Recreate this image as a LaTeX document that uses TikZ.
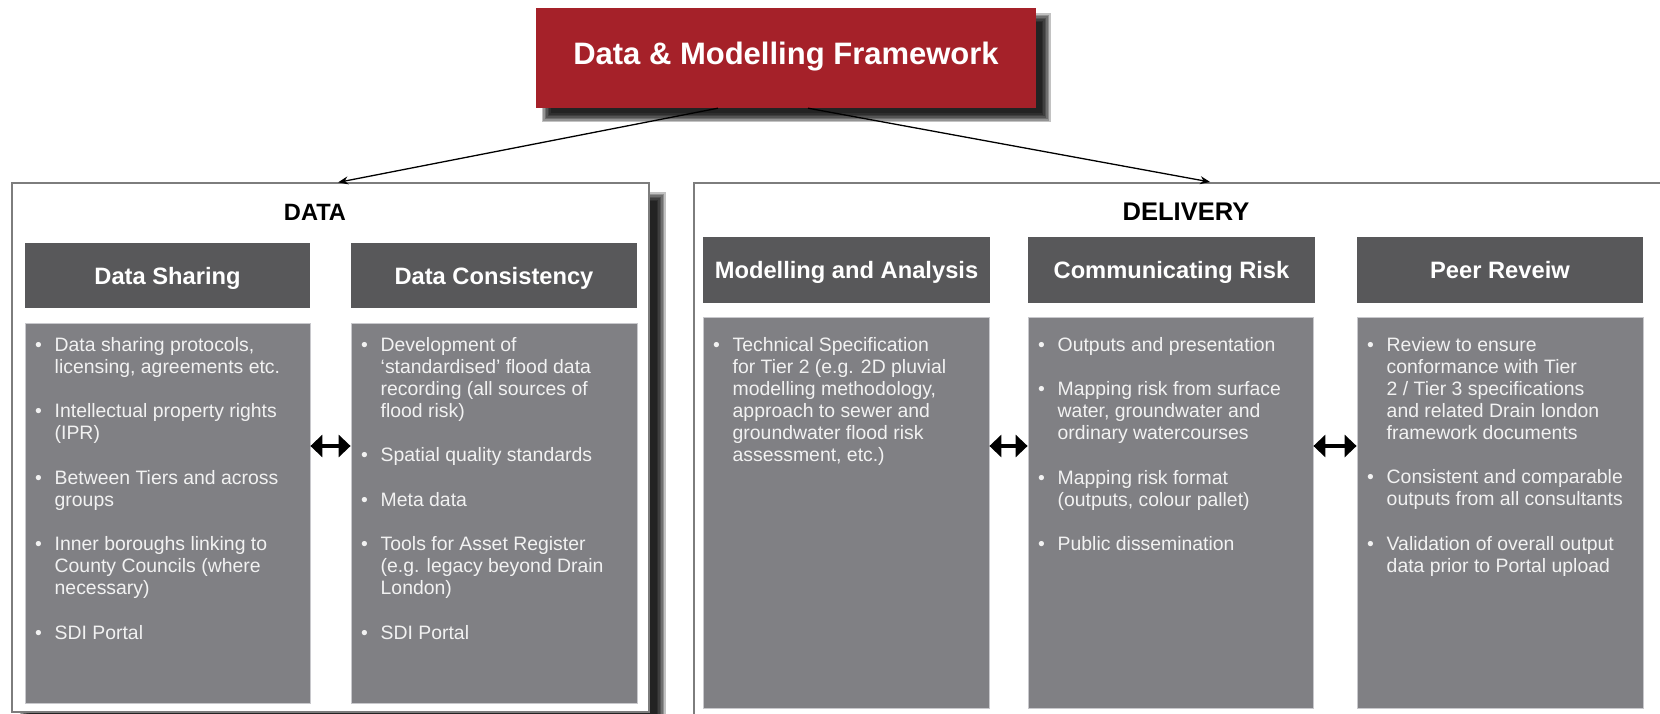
\documentclass[tikz,border=0pt]{standalone}
\usepackage{fontspec}
\setmainfont{Liberation Sans}
\usetikzlibrary{arrows.meta,calc}
\definecolor{dmred}{RGB}{165,33,41}
\definecolor{hdrgray}{RGB}{88,88,90}
\definecolor{bodygray}{RGB}{128,128,132}
\definecolor{panelline}{RGB}{125,125,125}
\definecolor{bodyedge}{RGB}{200,200,204}
\definecolor{bodytxt}{RGB}{242,242,242}
\newcommand\dmbodyfont{\fontsize{19.4}{22}\selectfont}
\newcommand\dmshadow[4]{%
  \foreach \k in {-3,...,3}{%
    \fill[black,opacity=0.24] ({#1-(\k)*1.5},{#2-(\k)*1.5}) rectangle ({#3+(\k)*1.5},{#4+(\k)*1.5});
  }}
\newcommand\dmitem[4]{%
  \node[bulnode] (#1b) at ({#2+10},#3) {\dmbodyfont •};
  \node[itemnode] (#1) at ({#2+29.5},#3) {\parbox[t]{280pt}{\dmbodyfont\raggedright #4}};
}
\begin{document}
\begin{tikzpicture}[x=1pt,y=-1pt,
  panel/.style={draw=panelline,line width=1.3pt,fill=white,inner sep=0},
  hdr/.style={fill=hdrgray,text=white,font=\fontsize{23.7}{26}\selectfont\bfseries,inner sep=0,text height=17pt,text depth=0pt},
  bodybox/.style={fill=bodygray,draw=bodyedge,line width=0.8pt,inner sep=0},
  bulnode/.style={text=bodytxt,inner sep=0,anchor=base west},
  itemnode/.style={text=bodytxt,inner sep=0,anchor=base west},
  paneltitle/.style={text=black,inner sep=0,text depth=0pt},
  link/.style={-{Stealth[length=10pt,width=8pt]},line width=1.3pt},
  dbl/.style={{Triangle[length=12pt,width=22pt]}-{Triangle[length=12pt,width=22pt]},line width=4.2pt},
]
\useasboundingbox (0,0) rectangle (1660,714);
\clip (0,0) rectangle (1660,714);
\fill[white] (0,0) rectangle (1660,714);

% shadows
\dmshadow{546}{18}{1046}{118}
\dmshadow{24}{197}{661}{726}

% top box
\node[fill=dmred,minimum width=500pt,minimum height=100pt,inner sep=0] (top) at (786,58) {};
\node[text=white,font=\fontsize{31}{34}\selectfont\bfseries,inner sep=0,text height=22.2pt,text depth=0pt] (toptext) at (786,53) {Data \& Modelling Framework};

% panels
\node[panel,minimum width=637pt,minimum height=529pt] (data) at (330.5,447.5) {};
\node[panel,minimum width=986pt,minimum height=551pt] (deliv) at (1187,458.5) {};
\node[paneltitle,font=\fontsize{23.6}{26}\selectfont\bfseries,text height=16.9pt] (dataT) at (315,212.5) {DATA};
\node[paneltitle,font=\fontsize{25.5}{28}\selectfont\bfseries,text height=18.3pt] (delivT) at (1186,211) {DELIVERY};

% headers
\node[hdr,minimum width=285pt,minimum height=65pt] (hDS) at (167.5,275.5) {Data Sharing};
\node[hdr,minimum width=286pt,minimum height=65pt] (hDC) at (494,275.5) {Data Consistency};
\node[hdr,minimum width=287pt,minimum height=66pt] (hMA) at (846.5,270) {Modelling and Analysis};
\node[hdr,minimum width=287pt,minimum height=66pt] (hCR) at (1171.5,270) {Communicating Risk};
\node[hdr,minimum width=286pt,minimum height=66pt] (hPR) at (1500,270) {Peer Reveiw};

% bodies
\node[bodybox,minimum width=285pt,minimum height=380pt] (bDS) at (167.5,513) {};
\node[bodybox,minimum width=286pt,minimum height=380pt] (bDC) at (494,513) {};
\node[bodybox,minimum width=286pt,minimum height=391pt] (bMA) at (846,512.5) {};
\node[bodybox,minimum width=285pt,minimum height=391pt] (bCR) at (1170.5,512.5) {};
\node[bodybox,minimum width=286pt,minimum height=391pt] (bPR) at (1500,512.5) {};

% items: Data Sharing
\dmitem{ds1}{25}{351}{Data sharing protocols,\\licensing, agreements etc.}
\dmitem{ds2}{25}{417.5}{Intellectual property rights\\(IPR)}
\dmitem{ds3}{25}{484}{Between Tiers and across\\groups}
\dmitem{ds4}{25}{550.5}{Inner boroughs linking to\\County Councils (where\\necessary)}
\dmitem{ds5}{25}{639}{SDI Portal}
% Data Consistency
\dmitem{dc1}{351}{351}{Development of\\‘standardised’ flood data\\recording (all sources of\\flood risk)}
\dmitem{dc2}{351}{461.5}{Spatial quality standards}
\dmitem{dc3}{351}{506}{Meta data}
\dmitem{dc4}{351}{550.5}{Tools for Asset Register\\(e.g. legacy beyond Drain\\London)}
\dmitem{dc5}{351}{639}{SDI Portal}
% Modelling and Analysis
\dmitem{ma1}{703}{351}{Technical Specification\\for Tier 2 (e.g. 2D pluvial\\modelling methodology,\\approach to sewer and\\groundwater flood risk\\assessment, etc.)}
% Communicating Risk
\dmitem{cr1}{1028}{351}{Outputs and presentation}
\dmitem{cr2}{1028}{395.5}{Mapping risk from surface\\water, groundwater and\\ordinary watercourses}
\dmitem{cr3}{1028}{484}{Mapping risk format\\(outputs, colour pallet)}
\dmitem{cr4}{1028}{550.5}{Public dissemination}
% Peer Review
\dmitem{pr1}{1357}{351}{Review to ensure\\conformance with Tier\\2 / Tier 3 specifications\\and related Drain london\\framework documents}
\dmitem{pr2}{1357}{483.5}{Consistent and comparable\\outputs from all consultants}
\dmitem{pr3}{1357}{550}{Validation of overall output\\data prior to Portal upload}

% connectors
\draw[link] ($(top.south west)!0.364!(top.south east)$) -- ($(data.north west)!0.512!(data.north east)$);
\draw[link,shorten >=2pt] ($(top.south west)!0.544!(top.south east)$) -- ($(deliv.north west)!0.5254!(deliv.north east)$);

\coordinate (ay) at (0,446);
\draw[dbl] (bDS.east |- ay) -- (bDC.west |- ay);
\draw[dbl] (bMA.east |- ay) -- (bCR.west |- ay);
\draw[dbl] (bCR.east |- ay) -- (bPR.west |- ay);
\end{tikzpicture}
\end{document}
